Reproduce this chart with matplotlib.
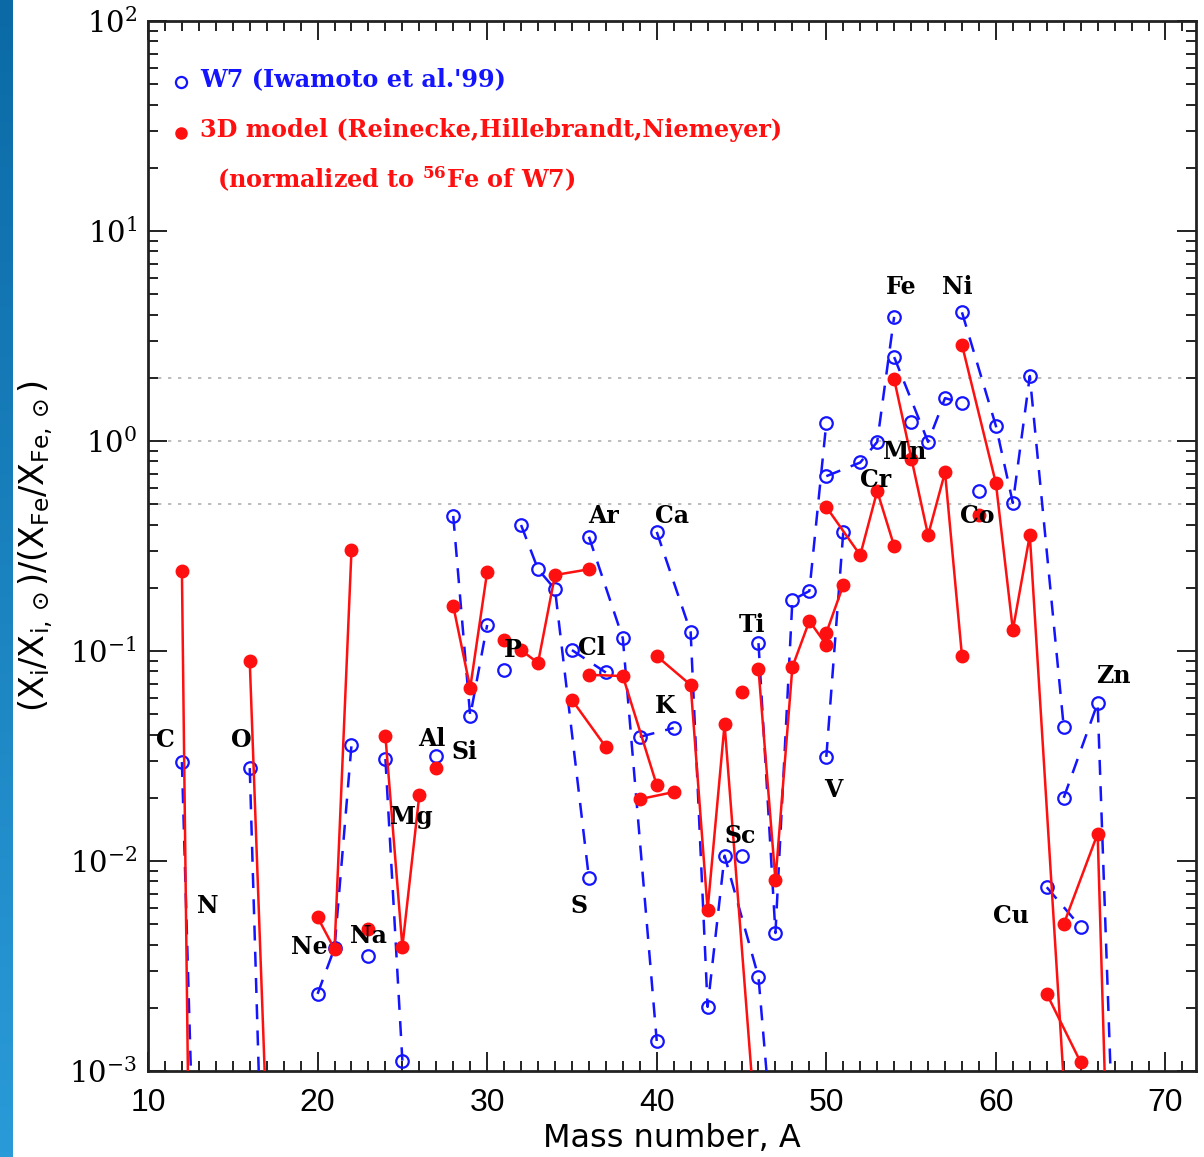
import numpy as np
import matplotlib
matplotlib.use("Agg")
import matplotlib.pyplot as plt
from matplotlib.ticker import MultipleLocator, LogLocator, FuncFormatter, NullFormatter
from matplotlib.colors import LinearSegmentedColormap

# ---------------- data ----------------
# W7 (Iwamoto et al. '99): element group, mass number, ratio
w7_elem = ["C", "C", "O", "O", "Ne", "Ne", "Ne", "Na", "Mg", "Mg", "Al",
           "Si", "Si", "Si", "P", "S", "S", "S", "S", "Cl", "Cl",
           "Ar", "Ar", "Ar", "K", "K", "Ca", "Ca", "Ca", "Ca", "Ca", "Ca",
           "Sc", "Ti", "Ti", "Ti", "Ti", "Ti", "V", "V", "Cr", "Cr", "Cr", "Cr",
           "Mn", "Fe", "Fe", "Fe", "Fe", "Co", "Ni", "Ni", "Ni", "Ni", "Ni",
           "Cu", "Cu", "Zn", "Zn", "Zn"]
w7_A = [12, 13, 16, 17, 20, 21, 22, 23, 24, 25, 27,
        28, 29, 30, 31, 32, 33, 34, 36, 35, 37,
        36, 38, 40, 39, 41, 40, 42, 43, 44, 46, 48,
        45, 46, 47, 48, 49, 50, 50, 51, 50, 52, 53, 54,
        55, 54, 56, 57, 58, 59, 58, 60, 61, 62, 64,
        63, 65, 64, 66, 67]
w7_val = [0.0296, 4.9e-5, 0.0277, 5.2e-5, 2.33e-3, 3.85e-3, 0.0357, 3.53e-3, 0.0306, 1.12e-3, 0.0316,
          0.44, 0.049, 0.133, 0.081, 0.398, 0.245, 0.197, 8.3e-3, 0.101, 0.079,
          0.35, 0.115, 1.39e-3, 0.039, 0.043, 0.369, 0.123, 2.02e-3, 0.0106, 2.8e-3, 3.5e-5,
          0.0106, 0.109, 4.54e-3, 0.175, 0.193, 1.22, 0.0313, 0.369, 0.68, 0.79, 0.99, 3.9,
          1.23, 2.51, 0.99, 1.6, 1.52, 0.58, 4.1, 1.18, 0.507, 2.04, 0.0435,
          7.5e-3, 4.85e-3, 0.02, 0.0565, 2.8e-4]

# 3D model (Reinecke, Hillebrandt, Niemeyer)
m3d_elem = ["C", "C", "O", "O", "Ne", "Ne", "Ne", "Na", "Mg", "Mg", "Mg", "Al",
            "Si", "Si", "Si", "P", "S", "S", "S", "S", "Cl", "Cl",
            "Ar", "Ar", "Ar", "K", "K", "Ca", "Ca", "Ca", "Ca", "Ca",
            "Sc", "Ti", "Ti", "Ti", "Ti", "Ti", "V", "V", "Cr", "Cr", "Cr", "Cr",
            "Mn", "Fe", "Fe", "Fe", "Fe", "Co", "Ni", "Ni", "Ni", "Ni", "Ni",
            "Cu", "Cu", "Zn", "Zn", "Zn"]
m3d_A = [12, 13, 16, 17, 20, 21, 22, 23, 24, 25, 26, 27,
         28, 29, 30, 31, 32, 33, 34, 36, 35, 37,
         36, 38, 40, 39, 41, 40, 42, 43, 44, 46,
         45, 46, 47, 48, 49, 50, 50, 51, 50, 52, 53, 54,
         55, 54, 56, 57, 58, 59, 58, 60, 61, 62, 64,
         63, 65, 64, 66, 67]
m3d_val = [0.24, 4e-8, 0.0895, 5.4e-4, 5.4e-3, 3.8e-3, 0.303, 4.74e-3, 0.0394, 3.9e-3, 0.0206, 0.0277,
           0.164, 0.0667, 0.238, 0.113, 0.101, 0.0877, 0.23, 0.245, 0.0585, 0.0349,
           0.077, 0.076, 0.023, 0.0197, 0.0213, 0.0946, 0.0689, 5.85e-3, 0.0449, 3.6e-4,
           0.0638, 0.082, 8.1e-3, 0.084, 0.139, 0.107, 0.122, 0.206, 0.485, 0.286, 0.578, 0.316,
           0.82, 1.97, 0.356, 0.71, 0.0946, 0.445, 2.87, 0.63, 0.126, 0.356, 8.9e-4,
           2.33e-3, 1.1e-3, 5e-3, 0.0135, 2.4e-5]

# element labels and their positions
label_text = ["C", "N", "O", "Ne", "Na", "Mg", "Al", "Si", "P", "S", "Cl", "Ar", "Ca", "K",
              "Sc", "Ti", "V", "Cr", "Mn", "Fe", "Ni", "Co", "Cu", "Zn"]
label_x = [11.0, 13.5, 15.5, 19.5, 23.0, 25.5, 26.75, 28.65, 31.5, 35.4, 36.2, 36.85, 40.9, 40.5,
           44.9, 45.6, 50.4, 52.9, 54.6, 54.4, 57.7, 58.9, 60.9, 66.9]
label_y = [0.0377, 6.1e-3, 0.0377, 3.9e-3, 4.4e-3, 0.0162, 0.038, 0.033, 0.101, 6.1e-3, 0.103, 0.44, 0.44,
           0.0547, 0.0132, 0.133, 0.0218, 0.652, 0.887, 5.4, 5.4, 0.44, 5.5e-3, 0.076]

ref_levels = [2.0, 1.0, 0.5]

BLUE = "#1414ff"
RED = "#ff1010"

# ---------------- figure ----------------
W, H = 1204, 1157
fig = plt.figure(figsize=(W / 100, H / 100), dpi=100)

# slide background strip on the left
strip = fig.add_axes([0, 0, 13 / W, 1])
grad = np.linspace(0, 1, 256).reshape(-1, 1)
cmap = LinearSegmentedColormap.from_list("s", ["#0b6aa6", "#2a9bd8"])
strip.imshow(grad, aspect="auto", cmap=cmap, extent=[0, 1, 0, 1], origin="upper")
strip.axis("off")

ax = fig.add_axes([148 / W, 1 - 1071 / H, (1196 - 148) / W, (1071 - 21) / H])
ax.set_yscale("log")
ax.set_xlim(10, 71.8)
ax.set_ylim(1e-3, 1e2)

for lv in ref_levels:
    ax.axhline(lv, color="#b0b0b0", lw=1.2, ls=(0, (2, 4)), zorder=1)


def draw(elem, A, val, **kw):
    order = []
    for e in elem:
        if e not in order:
            order.append(e)
    for e in order:
        xs = [a for a, ee in zip(A, elem) if ee == e]
        ys = [v for v, ee in zip(val, elem) if ee == e]
        ax.plot(xs, ys, **kw)


draw(w7_elem, w7_A, w7_val, color=BLUE, lw=1.8, ls=(0, (6, 4.5)), marker="o", ms=9,
     mfc="none", mec=BLUE, mew=1.6, zorder=3)
draw(m3d_elem, m3d_A, m3d_val, color=RED, lw=1.8, ls="-", marker="o", ms=9,
     mfc=RED, mec=RED, mew=1.0, zorder=4)

for t, x, y in zip(label_text, label_x, label_y):
    ax.text(x, y, t, ha="center", va="center", fontsize=17, fontweight="bold",
            family="DejaVu Serif", color="black", zorder=5)

# legend (drawn by hand as in the reference)
ax.plot([0.0315], [0.9419], transform=ax.transAxes, marker="o", ms=8, mfc="none",
        mec=BLUE, mew=1.6, ls="none", clip_on=False)
ax.text(0.0496, 0.9448, "W7 (Iwamoto et al.'99)", transform=ax.transAxes, color=BLUE,
        fontsize=17.2, fontweight="bold", family="DejaVu Serif", va="center", ha="left")
ax.plot([0.0315], [0.8933], transform=ax.transAxes, marker="o", ms=8, mfc=RED,
        mec=RED, ls="none", clip_on=False)
ax.text(0.0496, 0.8962, "3D model (Reinecke,Hillebrandt,Niemeyer)", transform=ax.transAxes,
        color=RED, fontsize=17.2, fontweight="bold", family="DejaVu Serif", va="center", ha="left")
ax.text(0.0658, 0.8495, r"(normalized to $^{\mathbf{56}}$Fe of W7)", transform=ax.transAxes,
        color=RED, fontsize=17.2, fontweight="bold", family="DejaVu Serif", va="center", ha="left",
        math_fontfamily="dejavuserif")

# axes styling
ax.xaxis.set_major_locator(MultipleLocator(10))
ax.xaxis.set_minor_locator(MultipleLocator(1))
ax.yaxis.set_major_locator(LogLocator(base=10, numticks=10))
ax.yaxis.set_minor_locator(LogLocator(base=10, subs=np.arange(2, 10), numticks=20))
ax.yaxis.set_minor_formatter(NullFormatter())
ax.yaxis.set_major_formatter(FuncFormatter(lambda v, p: r"$10^{%d}$" % int(round(np.log10(v)))))
ax.tick_params(which="both", direction="in", top=True, right=True, width=1.4, color="#222222")
ax.tick_params(which="major", length=14)
ax.tick_params(which="minor", length=7)
ax.tick_params(axis="x", which="major", pad=12, labelsize=23)
ax.tick_params(axis="y", which="major", pad=8, labelsize=21)
for lab in ax.get_xticklabels():
    lab.set_family("Liberation Sans")
for lab in ax.get_yticklabels():
    lab.set_math_fontfamily("dejavuserif")
for sp in ax.spines.values():
    sp.set_linewidth(2.0)
    sp.set_color("#222222")

ax.set_xlabel("Mass number, A", fontsize=23, family="DejaVu Sans", labelpad=4)
ax.set_ylabel(r"$(\mathrm{X_i/X_{i,\odot}})/(\mathrm{X_{Fe}/X_{Fe,\odot}})$", fontsize=24,
              math_fontfamily="dejavusans", labelpad=10)

fig.savefig("out.png", dpi=100)
